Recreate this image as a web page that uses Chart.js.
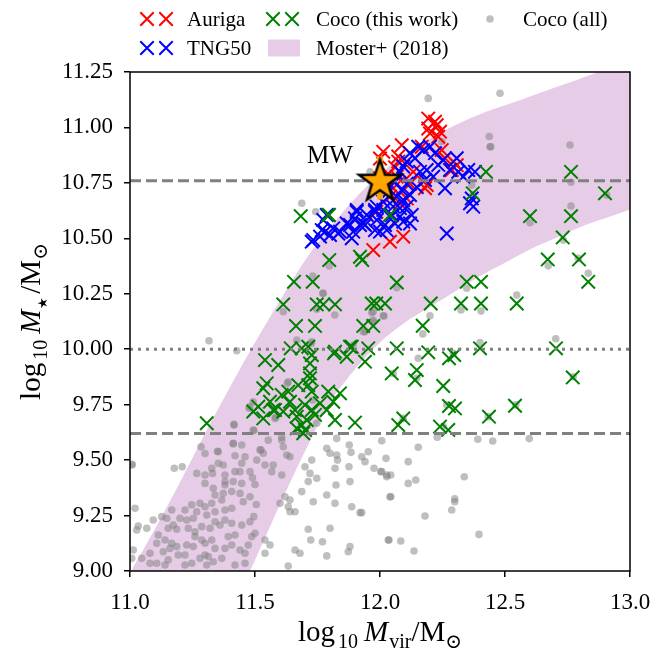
<!DOCTYPE html>
<html><head><meta charset="utf-8">
<script src="https://cdn.jsdelivr.net/npm/chart.js@4.4.1/dist/chart.umd.min.js"></script>
<style>html,body{margin:0;padding:0;background:#fff;}</style>
</head><body>
<canvas id="c" width="670" height="649"></canvas>
<script>
// ---------- data ----------
const xTickValues = [11.0, 11.5, 12.0, 12.5, 13.0];
const yTickValues = [9.0, 9.25, 9.5, 9.75, 10.0, 10.25, 10.5, 10.75, 11.0, 11.25];

const mosterX     = [11.0, 11.1, 11.2, 11.3, 11.4, 11.5, 11.6, 11.7, 11.8, 11.9, 12.0, 12.1, 12.2, 12.3, 12.4, 12.5, 12.6, 12.7, 12.8, 12.9, 13.0];
const mosterUpper = [8.99, 9.19, 9.40, 9.62, 9.83, 10.03, 10.22, 10.40, 10.55, 10.68, 10.79, 10.88, 10.95, 11.01, 11.06, 11.10, 11.14, 11.18, 11.22, 11.26, 11.29];
const mosterLower = [7.85, 8.09, 8.33, 8.57, 8.81, 9.05, 9.30, 9.54, 9.76, 9.91, 10.03, 10.12, 10.19, 10.26, 10.33, 10.39, 10.45, 10.50, 10.55, 10.59, 10.63];

const hLineDashed = [10.76, 9.62];
const hLineDotted = [10.0];

const mwPoint = [12.0, 10.76];
const mwErr = [10.675, 10.87];

const aurigaPts = [
 [12.193,11.04],[12.227,11.01],[12.193,10.995],[12.24,10.981],[12.20,10.973],[12.22,11.026],[12.233,10.958],
 [12.087,10.92],[12.167,10.913],[12.013,10.89],[12.247,10.898],[12.073,10.846],[12.073,10.869],[12.133,10.80],
 [12.06,10.82],[12.293,10.846],[12.307,10.83],[12.287,10.808],[12.18,10.726],[12.12,10.746],[12.067,10.778],
 [12.04,10.688],[12.053,10.726],[12.033,10.79],[12.00,10.77],[12.027,10.726],[12.08,10.658],[12.107,10.68],
 [12.093,10.508],[12.04,10.485],[11.973,10.447],[12.187,10.74],[12.26,10.861],[11.985,10.62],[12.00,10.86]
];

const tngPts = [
 [11.787,10.605],[11.773,10.583],[11.907,10.62],[11.98,10.62],[11.727,10.485],[11.767,10.537],[11.80,10.515],
 [11.833,10.522],[11.88,10.56],[11.887,10.50],[11.933,10.567],[11.98,10.537],
 [12.153,10.913],[12.173,10.898],[12.20,10.913],[12.22,10.884],[12.12,10.884],[12.14,10.861],[12.107,10.846],
 [12.093,10.824],[12.307,10.861],[12.253,10.853],[12.233,10.831],[12.28,10.808],[12.313,10.80],[12.353,10.808],
 [12.38,10.80],[12.333,10.778],[12.16,10.80],[12.187,10.808],[12.213,10.778],[12.26,10.726],[12.18,10.763],
 [12.08,10.80],[12.06,10.754],[12.107,10.746],[12.147,10.731],[12.087,10.718],[12.12,10.695],[12.067,10.688],
 [12.093,10.673],[12.053,10.643],[12.08,10.636],[12.107,10.643],[12.127,10.605],[12.08,10.598],[12.093,10.575],
 [12.06,10.567],[12.12,10.567],[12.047,10.605],[12.013,10.628],[11.98,10.628],[11.947,10.605],[11.907,10.628],
 [11.90,10.59],[12.02,10.56],[11.987,10.583],[11.94,10.56],[11.867,10.567],[11.813,10.545],[11.78,10.53],
 [11.76,10.508],[11.733,10.492],[11.84,10.53],[11.893,10.53],[11.92,10.56],[12.00,10.53],[12.027,10.537],
 [12.267,10.522],[12.36,10.658],[12.367,10.68],[12.373,10.643],[12.027,10.703],[12.013,10.665],[11.987,10.643]
];

const cocoPts = [
 [11.683,10.60],[11.796,10.605],[11.797,10.402],[11.929,10.402],[11.656,10.304],[11.731,10.304],[11.613,10.202],
 [11.747,10.202],[11.773,10.202],[11.82,10.202],[11.967,10.206],[11.985,10.206],[12.02,10.206],[11.664,10.105],
 [11.74,10.105],[11.933,10.105],[11.973,10.105],[11.643,10.004],[11.687,10.004],[11.713,10.011],[11.727,9.974],
 [11.82,9.989],[11.88,10.011],[11.953,10.004],[11.867,9.966],[11.94,9.944],[11.54,9.951],[11.593,9.929],
 [11.72,9.936],[11.72,9.891],[11.72,9.869],[11.547,9.846],[11.533,9.824],[11.673,9.838],[11.633,9.809],
 [11.713,9.838],[11.727,9.809],[11.607,9.794],[11.793,9.809],[11.84,9.801],[11.513,9.741],[11.56,9.763],
 [11.64,9.763],[11.70,9.749],[11.76,9.756],[11.813,9.763],[11.573,9.726],[11.613,9.719],[11.66,9.726],
 [11.727,9.726],[11.787,9.726],[11.493,9.719],[11.533,9.688],[11.667,9.696],[11.74,9.704],[11.82,9.681],
 [11.90,9.669],[11.687,9.658],[11.70,9.636],[11.667,9.643],[11.307,9.666],[11.693,9.621],[11.707,9.681],
 [11.58,9.726],[11.816,9.981],[11.887,10.011],
 [12.424,10.80],[12.764,10.80],[12.90,10.703],[12.371,10.703],[12.60,10.60],[12.764,10.60],[12.731,10.504],
 [12.671,10.405],[12.796,10.405],[12.833,10.304],[12.067,10.301],[12.347,10.304],[12.404,10.304],[12.203,10.206],
 [12.324,10.206],[12.404,10.206],[12.547,10.206],[12.171,10.106],[12.067,10.004],[12.193,9.986],[12.297,9.974],
 [12.276,9.959],[12.40,10.004],[12.704,10.004],[12.047,9.891],[12.147,9.906],[12.14,9.861],[12.253,9.834],
 [12.771,9.873],[12.276,9.744],[12.30,9.733],[12.54,9.745],[12.436,9.696],[12.093,9.688],[12.073,9.658],
 [12.24,9.651],[12.273,9.636],[12.04,10.605],[11.92,10.417],[11.793,10.605]
];

const cocoAllPts = [
 [11.007,9.478],[11.177,9.463],[11.209,9.47],[11.30,9.53],[11.284,9.56],[11.35,9.54],[11.413,9.573],[11.447,9.568],
 [11.42,9.52],[11.46,9.515],[11.447,9.486],[11.353,9.486],[11.373,9.478],[11.327,9.463],[11.267,9.44],[11.30,9.433],
 [11.33,9.44],[11.38,9.433],[11.42,9.448],[11.44,9.448],[11.48,9.448],[11.30,9.395],[11.333,9.373],[11.38,9.403],
 [11.38,9.388],[11.413,9.403],[11.447,9.395],[11.34,9.343],[11.373,9.35],[11.407,9.358],[11.44,9.35],[11.453,9.312],
 [11.48,9.335],[11.49,9.42],[11.28,9.305],[11.247,9.298],[11.30,9.29],[11.327,9.305],[11.367,9.32],[11.38,9.275],
 [11.407,9.283],[11.34,9.267],[11.307,9.252],[11.267,9.267],[11.22,9.275],[11.167,9.275],[11.20,9.238],[11.227,9.23],
 [11.253,9.238],[11.147,9.238],[11.127,9.245],[11.093,9.23],[11.02,9.283],[11.033,9.203],[11.067,9.193],[11.027,9.185],
 [11.173,9.207],[11.153,9.193],[11.187,9.188],[11.233,9.193],[11.26,9.177],[11.287,9.20],[11.32,9.193],[11.34,9.222],
 [11.36,9.207],[11.38,9.23],[11.407,9.215],[11.447,9.207],[11.48,9.222],[11.113,9.162],[11.14,9.14],[11.107,9.125],
 [11.167,9.125],[11.187,9.11],[11.16,9.102],[11.133,9.087],[11.08,9.08],[11.047,9.057],[11.013,9.095],[11.007,9.057],
 [11.107,9.035],[11.153,9.05],[11.193,9.072],[11.22,9.072],[11.227,9.117],[11.253,9.11],[11.26,9.155],[11.287,9.14],
 [11.30,9.125],[11.327,9.14],[11.34,9.102],[11.313,9.065],[11.30,9.072],[11.28,9.057],[11.333,9.042],[11.307,9.027],
 [11.247,9.035],[11.22,9.027],[11.367,9.057],[11.38,9.102],[11.393,9.155],[11.42,9.162],[11.407,9.117],[11.44,9.095],
 [11.46,9.08],[11.473,9.117],[11.487,9.155],[11.42,9.027],[11.46,9.035],[11.14,9.027],[11.08,9.035],
 [11.52,9.546],[11.533,9.531],[11.507,9.50],[11.54,9.478],[11.573,9.478],[11.567,9.448],[11.607,9.433],[11.627,9.523],
 [11.64,9.515],[11.70,9.47],[11.727,9.50],[11.72,9.44],[11.747,9.418],[11.713,9.403],[11.687,9.358],[11.787,9.553],
 [11.80,9.531],[11.827,9.523],[11.83,9.50],[11.82,9.463],[11.824,9.388],[11.877,9.568],[11.884,9.535],[11.876,9.47],
 [11.88,9.403],[11.927,9.515],[11.94,9.493],[11.953,9.538],[11.976,9.463],[12.003,9.448],[12.027,9.433],[11.787,9.343],
 [11.82,9.305],[11.733,9.312],[11.62,9.335],[11.64,9.32],[11.60,9.305],[11.633,9.29],[11.64,9.267],[11.66,9.267],
 [11.887,9.29],[11.92,9.263],[11.713,9.188],[11.80,9.193],[11.723,9.14],[11.77,9.132],[11.88,9.11],[11.873,9.087],
 [11.787,9.068],[11.66,9.095],[11.68,9.08],[11.633,9.022],[11.54,9.14],[11.56,9.117],[11.54,9.08],[12.033,9.14],
 [12.04,9.335],[11.613,9.56],[11.553,9.59],[11.50,9.39],[11.505,9.30],[11.495,9.245],[11.50,9.17],
 [12.007,9.587],[12.024,9.508],[12.007,9.448],[12.027,9.425],[12.043,9.433],[12.113,9.493],[12.153,9.558],[12.113,9.395],
 [12.143,9.41],[12.043,9.335],[12.18,9.248],[11.927,9.263],[12.036,9.14],[12.083,9.135],[12.136,9.09],[12.229,9.603],
 [12.299,9.325],[12.299,9.312],[12.287,9.275],[12.337,9.425],[12.391,9.594],[12.451,9.586],[12.396,9.165],[12.597,9.597],
 [11.416,9.661],[11.413,9.576],[11.353,9.538],[11.009,9.481],[11.607,9.59],[11.524,9.546],[11.827,9.598],
 [11.316,10.038],[11.427,9.993],[11.687,10.658],[11.743,10.62],[11.797,10.375],[11.613,10.169],[11.771,10.252],
 [11.819,10.154],[11.667,10.041],[11.724,10.026],[11.629,9.846],[11.731,9.771],[11.476,9.734],[11.416,9.658],
 [11.583,9.693],[11.496,9.633],[11.967,10.165],[11.94,10.079],
 [12.44,10.913],[12.76,10.921],[12.764,10.753],[12.764,10.646],[12.60,10.57],[12.673,10.376],[12.833,10.342],
 [12.907,10.695],[12.733,10.492],[12.793,10.41],[12.547,10.244],[12.404,10.172],[12.324,10.177],[12.20,10.151],
 [12.171,10.069],[12.347,10.275],[12.067,10.277],[12.013,10.151],[11.973,10.124],[12.40,10.03],[12.703,10.047],
 [12.153,9.959],[12.053,9.891],[12.147,9.869],[12.293,9.982],[12.267,9.749],[12.773,9.876],[12.543,9.749],
 [12.433,9.696],[12.253,9.651],[12.093,9.688],[12.367,10.74],[12.371,10.695],
 [12.193,11.131],[12.48,11.154],[12.437,10.959],[12.443,10.913],[12.247,10.936],[11.96,10.80],
 [11.731,10.33],[11.773,10.252],[11.747,10.18],[11.973,10.169],[12.016,10.15],[11.973,10.132],[11.933,10.079],
 [11.727,10.034],[11.48,9.741],[11.493,9.763],[11.633,9.853],[11.58,9.688],[11.747,9.666],[11.493,9.636],
 [11.607,9.603],[11.893,10.019]
];

// ---------- helpers ----------
const SERIF = '"Liberation Serif", "DejaVu Serif", serif';
const toXY = arr => arr.map(p => ({x: p[0], y: p[1]}));

function makeStar(R, r, fill, stroke, lw) {
  const size = Math.ceil(2 * R + lw * 2 + 4);
  const c = document.createElement('canvas');
  c.width = size; c.height = size;
  const g = c.getContext('2d');
  const cx = size / 2, cy = size / 2 + 1;
  g.beginPath();
  for (let i = 0; i < 10; i++) {
    const ang = -Math.PI / 2 + i * Math.PI / 5;
    const rad = i % 2 === 0 ? R : r;
    g.lineTo(cx + rad * Math.cos(ang), cy + rad * Math.sin(ang));
  }
  g.closePath();
  g.fillStyle = fill; g.fill();
  g.lineWidth = lw; g.lineJoin = 'miter'; g.strokeStyle = stroke; g.stroke();
  return c;
}
const starImg = makeStar(22, 8.6, '#FFA500', '#000000', 2.5);

const CROSS_R = 9.5, CROSS_W = 2;
const GRAY = 'rgba(128,128,128,0.5)';
const PURPLE = 'rgba(128,0,128,0.2)';

function hline(y, dash, order) {
  return { type: 'line', data: [{x: 11, y: y}, {x: 13, y: y}], borderColor: '#808080', borderWidth: 3,
           borderDash: dash, borderCapStyle: 'butt', pointRadius: 0, fill: false, order: order };
}

const datasets = [
  { type: 'line', label: 'Moster+ (2018)', data: mosterX.map((x, i) => ({x: x, y: mosterUpper[i]})),
    borderColor: 'rgba(0,0,0,0)', borderWidth: 0, backgroundColor: PURPLE, pointRadius: 0, tension: 0.3,
    fill: '+1', order: 100 },
  { type: 'line', label: '_lower', data: mosterX.map((x, i) => ({x: x, y: mosterLower[i]})),
    borderColor: 'rgba(0,0,0,0)', borderWidth: 0, pointRadius: 0, tension: 0.3, fill: false, order: 101 },
  { type: 'scatter', label: 'Coco (all)', data: toXY(cocoAllPts), pointStyle: 'circle', pointRadius: 3.8,
    backgroundColor: GRAY, borderWidth: 0, borderColor: 'rgba(0,0,0,0)', order: 90 },
  { type: 'scatter', label: 'Auriga', data: toXY(aurigaPts), pointStyle: 'crossRot', pointRadius: CROSS_R,
    borderColor: '#ff0000', borderWidth: CROSS_W, order: 80 },
  { type: 'scatter', label: 'TNG50', data: toXY(tngPts), pointStyle: 'crossRot', pointRadius: CROSS_R,
    borderColor: '#0000ff', borderWidth: CROSS_W, order: 70 },
  { type: 'scatter', label: 'Coco (this work)', data: toXY(cocoPts), pointStyle: 'crossRot', pointRadius: CROSS_R,
    borderColor: '#008000', borderWidth: CROSS_W, order: 60 },
  ...hLineDashed.map(y => hline(y, [11, 5], 50)),
  ...hLineDotted.map(y => hline(y, [3, 5], 50)),
  { type: 'line', label: '_err', data: [{x: mwPoint[0], y: mwErr[0]}, {x: mwPoint[0], y: mwErr[1]}],
    borderColor: '#FFA500', borderWidth: 6, pointRadius: 0, fill: false, order: 40 },
  { type: 'scatter', label: 'MW', data: [{x: mwPoint[0], y: mwPoint[1]}], pointStyle: starImg, pointRadius: 22, order: 30 }
];

// ---------- plugins ----------
function segFont(s, size) {
  const sz = s.sz ? Math.round(size * s.sz) : (s.sub ? Math.round(size * 0.7) : size);
  return (s.it ? 'italic ' : '') + sz + 'px ' + SERIF;
}
function richWidth(ctx, segs, size) {
  let w = 0;
  segs.forEach(s => { ctx.font = segFont(s, size); s.w = ctx.measureText(s.t).width + (s.gap || 0); w += s.w; });
  return w;
}
function drawRich(ctx, segs, cx, cy, size) {
  const w = richWidth(ctx, segs, size);
  let x = cx - w / 2;
  ctx.textBaseline = 'alphabetic';
  ctx.textAlign = 'left';
  segs.forEach(s => {
    ctx.font = segFont(s, size);
    ctx.fillText(s.t, x, cy + (s.sub ? size * 0.25 : 0));
    x += s.w;
  });
}

const decorPlugin = {
  id: 'decor',
  afterDatasetsDraw(chart) {
    const ctx = chart.ctx, a = chart.chartArea;
    ctx.save();
    // frame
    ctx.strokeStyle = '#000'; ctx.lineWidth = 1.5;
    ctx.strokeRect(a.left, a.top, a.right - a.left, a.bottom - a.top);
    // MW label
    ctx.fillStyle = '#000';
    ctx.font = '25px ' + SERIF;
    ctx.textAlign = 'center'; ctx.textBaseline = 'middle';
    const xs = chart.scales.x, ys = chart.scales.y;
    ctx.fillText('MW', xs.getPixelForValue(11.8), ys.getPixelForValue(10.87));
    // axis titles
    const size = 29;
    drawRich(ctx, [{t: 'log', gap: 3}, {t: '10', sub: true, gap: 6}, {t: 'M', it: true, gap: 1}, {t: 'vir', sub: true},
                   {t: '/M'}, {t: '\u2299', sub: true}], (a.left + a.right) / 2, 641, size);
    ctx.save();
    ctx.translate(40, (a.top + a.bottom) / 2);
    ctx.rotate(-Math.PI / 2);
    drawRich(ctx, [{t: 'log', gap: 3}, {t: '10', sub: true, gap: 6}, {t: 'M', it: true, gap: 1},
                   {t: '\u2605', sub: true, sz: 0.45, gap: 3}, {t: '/M'}, {t: '\u2299', sub: true}], 0, 0, size);
    ctx.restore();
    // legend
    const byLabel = {};
    chart.data.datasets.forEach(d => { byLabel[d.label] = d; });
    const cross = (x, y, col) => {
      const h = CROSS_R * Math.SQRT1_2;
      ctx.strokeStyle = col; ctx.lineWidth = CROSS_W;
      ctx.beginPath(); ctx.moveTo(x - h, y - h); ctx.lineTo(x + h, y + h);
      ctx.moveTo(x - h, y + h); ctx.lineTo(x + h, y - h); ctx.stroke();
    };
    ctx.font = '21px ' + SERIF; ctx.textAlign = 'left'; ctx.textBaseline = 'middle'; ctx.fillStyle = '#000';
    const r1 = 19, r2 = 48;
    const items = [
      {lab: 'Auriga', kind: 'x', mx: 147, tx: 187, y: r1},
      {lab: 'TNG50', kind: 'x', mx: 147, tx: 187, y: r2},
      {lab: 'Coco (this work)', kind: 'x', mx: 273, tx: 316, y: r1},
      {lab: 'Moster+ (2018)', kind: 'patch', mx: 268, tx: 316, y: r2},
      {lab: 'Coco (all)', kind: 'dot', mx: 490, tx: 523, y: r1}
    ];
    items.forEach(it => {
      const d = byLabel[it.lab];
      if (it.kind === 'x') { cross(it.mx, it.y, d.borderColor); cross(it.mx + 19, it.y, d.borderColor); }
      else if (it.kind === 'patch') { ctx.fillStyle = d.backgroundColor; ctx.fillRect(it.mx, it.y - 8.5, 32, 17); }
      else { ctx.fillStyle = d.backgroundColor; ctx.beginPath(); ctx.arc(it.mx, it.y, 3.8, 0, Math.PI * 2); ctx.fill(); }
      ctx.fillStyle = '#000';
      ctx.fillText(it.lab, it.tx, it.y + 1);
    });
    ctx.restore();
  }
};

new Chart(document.getElementById('c'), {
  type: 'scatter',
  data: { datasets: datasets },
  options: {
    responsive: false, animation: false, devicePixelRatio: 1, events: [],
    layout: { padding: { top: 72, right: 40, left: 0, bottom: 0 } },
    plugins: { legend: { display: false }, tooltip: { enabled: false } },
    scales: {
      x: {
        type: 'linear', min: 11, max: 13,
        afterBuildTicks: s => { s.ticks = xTickValues.map(v => ({value: v})); },
        afterFit: s => { s.height = 78; },
        ticks: { callback: v => Number(v).toFixed(1), color: '#000', font: { family: SERIF, size: 23 }, padding: 12, maxRotation: 0 },
        grid: { display: true, drawOnChartArea: false, drawTicks: true, tickLength: 6, color: '#000', lineWidth: 1.5 },
        border: { display: false }
      },
      y: {
        type: 'linear', min: 9, max: 11.25,
        afterBuildTicks: s => { s.ticks = yTickValues.map(v => ({value: v})); },
        afterFit: s => { s.width = 130; },
        ticks: { callback: v => Number(v).toFixed(2), color: '#000', font: { family: SERIF, size: 23 }, padding: 11 },
        grid: { display: true, drawOnChartArea: false, drawTicks: true, tickLength: 6, color: '#000', lineWidth: 1.5 },
        border: { display: false }
      }
    }
  },
  plugins: [decorPlugin]
});
</script>
</body></html>
